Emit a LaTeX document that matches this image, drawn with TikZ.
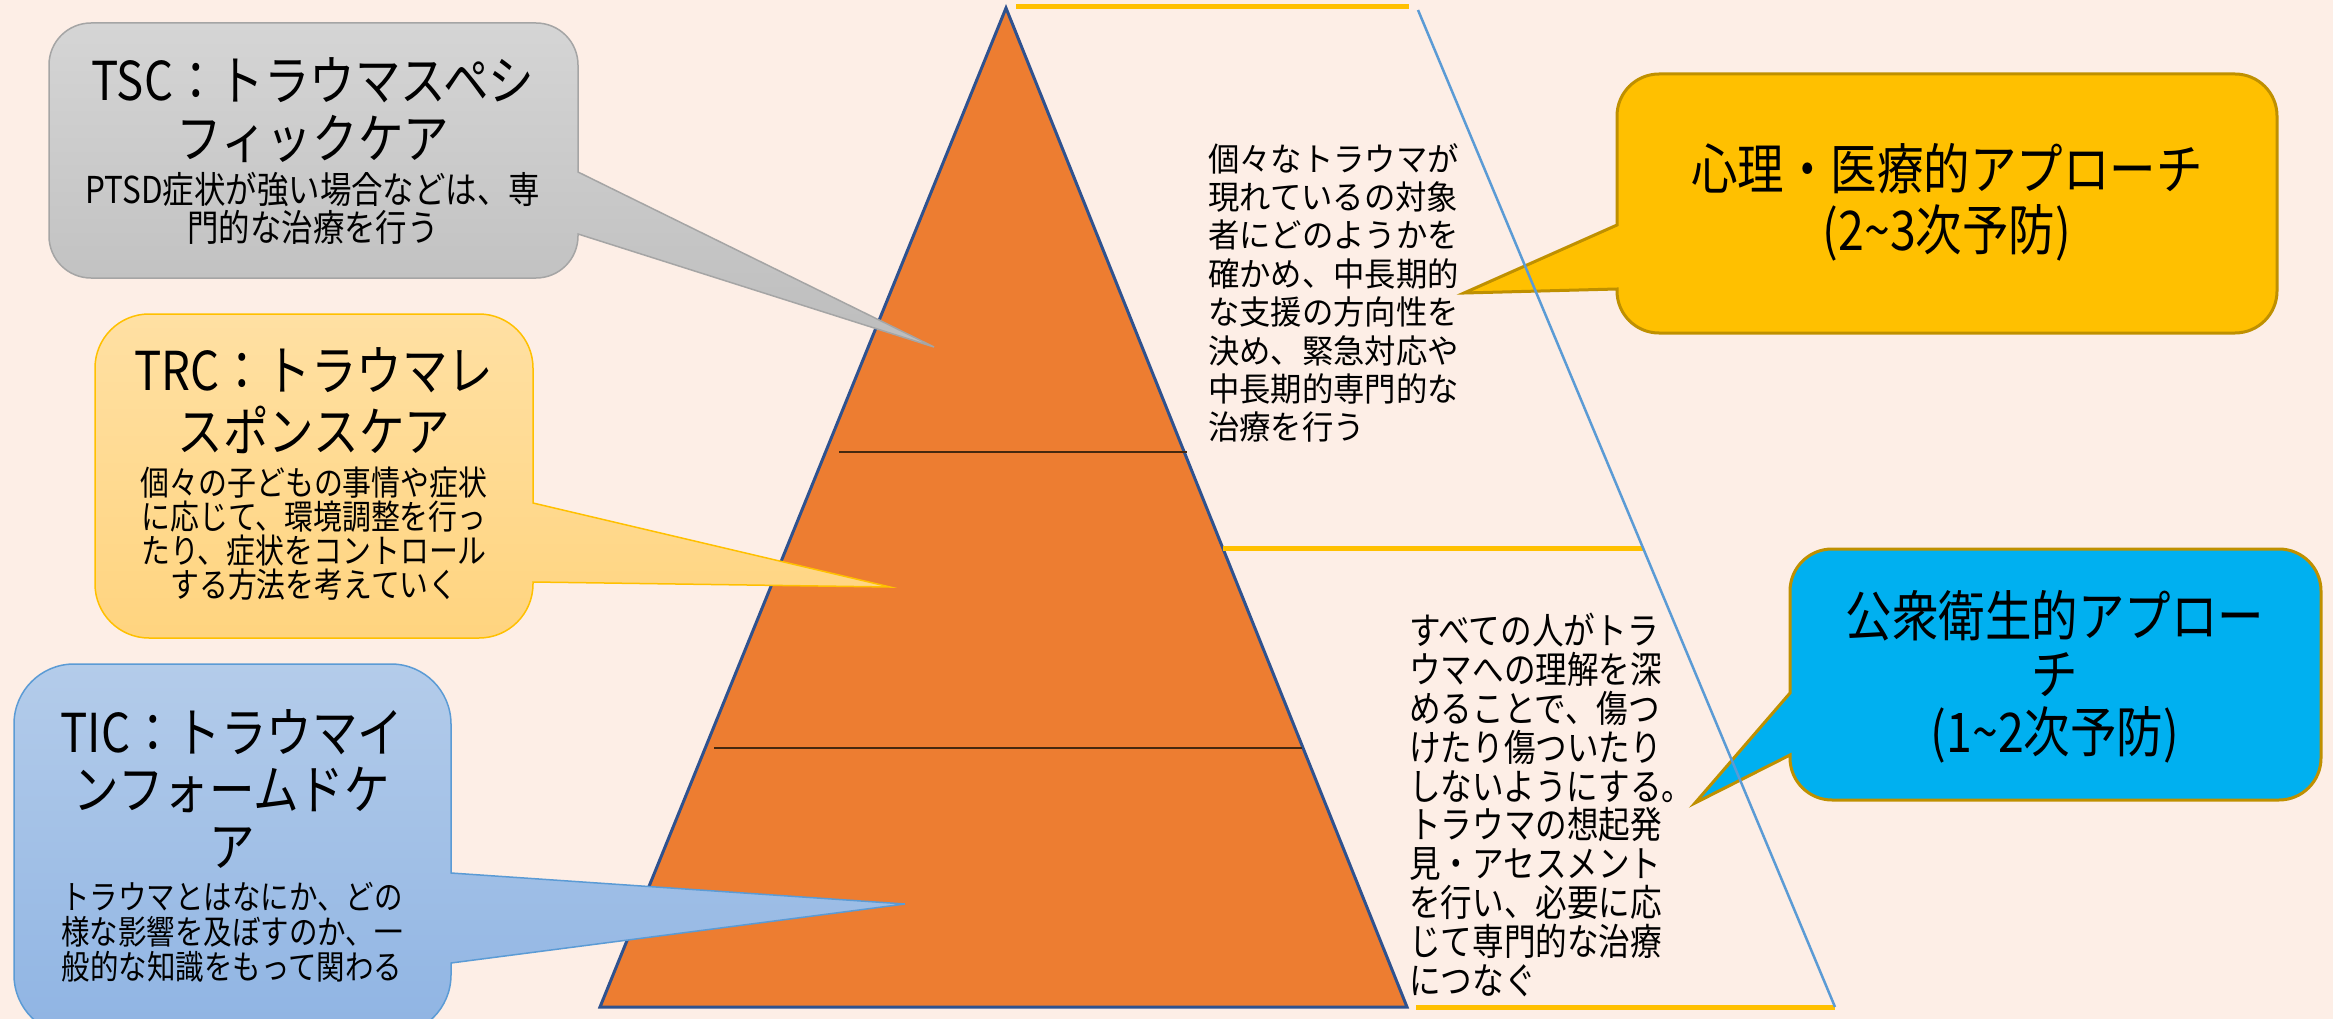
\documentclass[tikz,border=0pt]{standalone}
\usepackage{fontspec}
\newfontfamily\jp[FakeStretch=0.85]{Noto Sans CJK JP}
\newfontfamily\jpw[FakeStretch=0.95]{Noto Sans CJK JP}
\definecolor{bgc}{RGB}{253,238,230}
\definecolor{pyrfill}{RGB}{237,125,49}
\definecolor{pyrline}{RGB}{47,82,143}
\definecolor{divline}{RGB}{70,40,15}
\definecolor{blueline}{RGB}{91,155,213}
\definecolor{gold}{RGB}{255,192,0}
\definecolor{darkgold}{RGB}{191,144,0}
\definecolor{cyanbox}{RGB}{0,176,240}
\definecolor{grayTop}{RGB}{213,213,213}
\definecolor{grayBot}{RGB}{189,189,189}
\definecolor{grayBorder}{RGB}{165,165,165}
\definecolor{orTop}{RGB}{255,224,163}
\definecolor{orBot}{RGB}{255,212,127}
\definecolor{blTop}{RGB}{180,204,234}
\definecolor{blBot}{RGB}{143,180,227}
\tikzset{
  titletext/.style={inner sep=0pt, align=center, font=\jp\fontsize{53.6}{58}\selectfont},
  bodytext/.style={inner sep=0pt, align=center},
  midtext/.style={inner sep=0pt, align=left, anchor=west},
  yline/.style={gold, line width=5pt},
}
\begin{document}
\begin{tikzpicture}[x=1pt,y=-1pt]
\useasboundingbox (0,0) rectangle (2333,1019);
\fill[bgc] (0,0) rectangle (2333,1019);

% pyramid
\coordinate (apex) at (1006,8);
\coordinate (bl) at (600,1007);
\coordinate (br) at (1407,1007);
\filldraw[fill=pyrfill, draw=pyrline, line width=3pt, line join=miter] (apex) -- (bl) -- (br) -- cycle;
\coordinate (d1a) at (839,452);
\coordinate (d1b) at (1187,452);
\coordinate (d2a) at (714,748);
\coordinate (d2b) at (1302,748);
\draw[divline, line width=2pt] (d1a) -- (d1b);
\draw[divline, line width=2pt] (d2a) -- (d2b);

% yellow lines
\coordinate (y1a) at (1016,7);
\coordinate (y1b) at (1409,7);
\coordinate (y2a) at (1223,548);
\coordinate (y2b) at (1643,548);
\coordinate (y3a) at (1416,1007);
\coordinate (y3b) at (1835,1007);
\draw[yline] (y1a) -- (y1b);
\draw[yline] (y2a) -- (y2b);
\draw[yline] (y3a) -- (y3b);

% TSC callout
\path[draw=grayBorder, line width=1.5pt, top color=grayTop, bottom color=grayBot]
 (91,23) -- (536,23) .. controls (559.2,23) and (578,41.8) .. (578,65)
 -- (578,172) -- (934,347) -- (578,234)
 -- (578,236) .. controls (578,259.2) and (559.2,278) .. (536,278)
 -- (91,278) .. controls (67.8,278) and (49,259.2) .. (49,236)
 -- (49,65) .. controls (49,41.8) and (67.8,23) .. (91,23) -- cycle;
\node[titletext] (tsct) at (313,110) {TSC：トラウマスペシ\\フィックケア};
\node[bodytext, font=\jp\fontsize{37}{38}\selectfont] (tscb) at (313,208) {PTSD症状が強い場合などは、専\\門的な治療を行う};

% TRC callout
\path[draw=gold, line width=1.5pt, top color=orTop, bottom color=orBot]
 (149,314) -- (479,314) .. controls (508.8,314) and (533,338.2) .. (533,368)
 -- (533,503) -- (890,587) -- (533,582)
 -- (533,584) .. controls (533,613.8) and (508.8,638) .. (479,638)
 -- (149,638) .. controls (119.2,638) and (95,613.8) .. (95,584)
 -- (95,368) .. controls (95,338.2) and (119.2,314) .. (149,314) -- cycle;
\node[titletext, font=\jp\fontsize{53.6}{61}\selectfont] (trct) at (314,401) {TRC：トラウマレ\\スポンスケア};
\node[bodytext, font=\jp\fontsize{34}{34}\selectfont] (trcb) at (314,534) {個々の子どもの事情や症状\\に応じて、環境調整を行っ\\たり、症状をコントロール\\する方法を考えていく};

% TIC callout
\path[draw=blueline, line width=1.5pt, top color=blTop, bottom color=blBot]
 (74,664) -- (391,664) .. controls (424.1,664) and (451,690.9) .. (451,724)
 -- (451,873) -- (905,904) -- (451,963)
 -- (451,975) .. controls (451,1008.1) and (424.1,1035) .. (391,1035)
 -- (74,1035) .. controls (40.9,1035) and (14,1008.1) .. (14,975)
 -- (14,724) .. controls (14,690.9) and (40.9,664) .. (74,664) -- cycle;
\node[titletext, font=\jp\fontsize{53.6}{57}\selectfont] (tict) at (232,789) {TIC：トラウマイ\\ンフォームドケ\\ア};
\node[bodytext, font=\jp\fontsize{33.5}{35}\selectfont] (ticb) at (232,932) {トラウマとはなにか、どの\\様な影響を及ぼすのか、一\\般的な知識をもって関わる};

% Psych callout
\path[draw=darkgold, line width=3pt, fill=gold]
 (1659,74) -- (2235,74) .. controls (2258.2,74) and (2277,92.8) .. (2277,116)
 -- (2277,291) .. controls (2277,314.2) and (2258.2,333) .. (2235,333)
 -- (1659,333) .. controls (1635.8,333) and (1617,314.2) .. (1617,291)
 -- (1617,289) -- (1464,293) -- (1617,225)
 -- (1617,116) .. controls (1617,92.8) and (1635.8,74) .. (1659,74) -- cycle;
\node[titletext, font=\jp\fontsize{54.7}{61}\selectfont] (psy) at (1947,202) {心理・医療的アプローチ\\(2{\char"7E}3次予防)};

% Public health callout
\path[draw=darkgold, line width=3pt, fill=cyanbox]
 (1832,549) -- (2279,549) .. controls (2302.2,549) and (2321,567.8) .. (2321,591)
 -- (2321,758) .. controls (2321,781.2) and (2302.2,800) .. (2279,800)
 -- (1832,800) .. controls (1808.8,800) and (1790,781.2) .. (1790,758)
 -- (1790,755) -- (1695,803) -- (1790,693)
 -- (1790,591) .. controls (1790,567.8) and (1808.8,549) .. (1832,549) -- cycle;
\node[titletext, font=\jp\fontsize{54.7}{58}\selectfont] (pub) at (2055,677) {公衆衛生的アプロー\\チ\\(1{\char"7E}2次予防)};

% blue slanted line
\coordinate (bla) at (1418,10);
\coordinate (blb) at (1835,1007);
\draw[blueline, line width=2.5pt] (bla) -- (blb);

% middle texts
\node[midtext, font=\jpw\fontsize{33}{38.4}\selectfont] (mid1) at (1208,293) {個々なトラウマが\\現れているの対象\\者にどのようかを\\確かめ、中長期的\\な支援の方向性を\\決め、緊急対応や\\中長期的専門的な\\治療を行う};
\node[midtext, font=\jp\fontsize{37.2}{38.9}\selectfont] (mid2) at (1409,805) {すべての人がトラ\\ウマへの理解を深\\めることで、傷つ\\けたり傷ついたり\\しないようにする。\\トラウマの想起発\\見・アセスメント\\を行い、必要に応\\じて専門的な治療\\につなぐ};
\end{tikzpicture}
\end{document}
